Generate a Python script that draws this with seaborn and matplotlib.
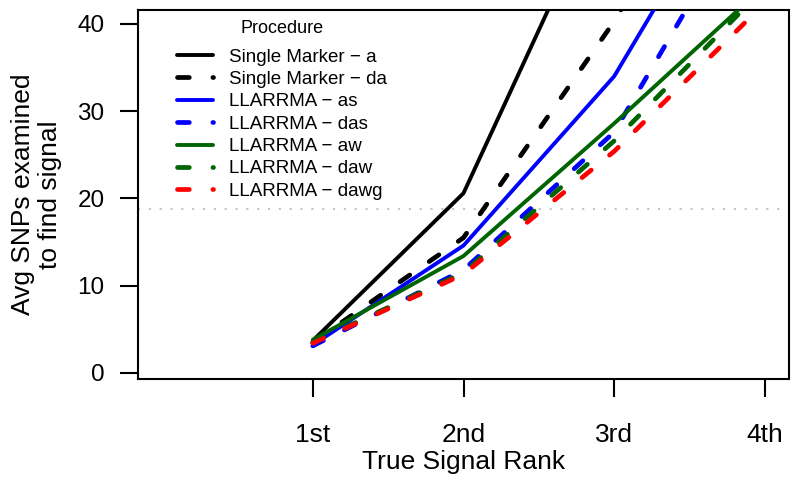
#!/usr/bin/env python3

import matplotlib
matplotlib.use("Agg")
from matplotlib import pyplot as plt
import numpy as np
import pandas as pd
import seaborn as sns

# Data
ranks = [1, 2, 3, 4]
rank_labels = ["1st", "2nd", "3rd", "4th"]
procedures = [
        "Single Marker \u2212 a", "Single Marker \u2212 da",
        "LLARRMA \u2212 as", "LLARRMA \u2212 das",
        "LLARRMA \u2212 aw", "LLARRMA \u2212 daw",
        "LLARRMA \u2212 dawg",
        ]
single_a = [3.7, 20.6, 58.0, 95.0]
single_da = [3.5, 15.5, 40.3, 70.0]
llarrma_as = [3.2, 14.6, 34.0, 63.0]
llarrma_das = [3.1, 11.8, 27.6, 57.0]
llarrma_aw = [3.8, 13.4, 28.6, 44.4]
llarrma_daw = [3.5, 11.5, 26.6, 44.2]
llarrma_dawg = [3.4, 11.3, 25.4, 42.4]
threshold = 18.8

colors = ["black", "black", "#0000ff", "#0000ff", "#006400", "#006400", "#ff0000"]
solid = [True, False, True, False, True, False, False]


def main():
    series = [single_a, single_da, llarrma_as, llarrma_das,
              llarrma_aw, llarrma_daw, llarrma_dawg]
    frames = []
    for name, vals in zip(procedures, series):
        frames.append(pd.DataFrame({"rank": ranks, "value": vals,
                                    "Procedure": name}))
    df = pd.concat(frames, ignore_index=True)

    sns.set_style("ticks")
    plt.rcParams["font.family"] = ["Liberation Sans", "DejaVu Sans"]
    plt.rcParams["text.color"] = "black"
    plt.rcParams["axes.labelcolor"] = "black"
    plt.rcParams["xtick.color"] = "black"
    plt.rcParams["ytick.color"] = "black"

    fig = plt.figure(figsize=(8, 4.9), dpi=100)
    ax = fig.add_axes([0.1725, 0.2265, 0.81375, 0.7531])

    palette = dict(zip(procedures, colors))
    dashes = {p: ("" if s else (2.5, 5.0)) for p, s in zip(procedures, solid)}
    sizes = {p: (2.8 if s else 3.4) for p, s in zip(procedures, solid)}

    ax.axhline(threshold, color="#c4c4c4", lw=1.5, linestyle=(0, (1, 4.2)),
               zorder=1)

    sns.lineplot(df, x="rank", y="value", hue="Procedure",
                 style="Procedure", size="Procedure", palette=palette,
                 dashes=dashes, sizes=sizes, hue_order=procedures,
                 style_order=procedures, size_order=procedures,
                 ax=ax, zorder=3)
    for line in ax.lines[1:]:
        line.set_dash_capstyle("round")

    ax.set_xlim(-0.16, 4.16)
    ax.set_ylim(-0.7, 41.6)
    ax.set_xticks(ranks)
    ax.set_xticklabels(rank_labels, fontsize=19)
    ax.set_yticks([0, 10, 20, 30, 40])
    ax.tick_params(axis="y", labelsize=17.5, pad=11)
    ax.tick_params(axis="x", pad=19)
    ax.tick_params(length=13, width=1.5, color="black")
    for sp in ax.spines.values():
        sp.set_visible(True)
        sp.set_linewidth(1.5)
        sp.set_color("black")

    ax.set_xlabel("True Signal Rank", fontsize=19, labelpad=2)
    ax.set_ylabel("Avg SNPs examined\nto find signal", fontsize=19,
                  labelpad=11, linespacing=1.15)

    leg = ax.legend(title="Procedure", loc="upper left",
                    bbox_to_anchor=(0.06, 0.972), frameon=False,
                    fontsize=13.5, title_fontsize=13, handlelength=1.92,
                    handletextpad=0.85, labelspacing=0.28, borderpad=0,
                    borderaxespad=0)
    leg._legend_box.sep = 8
    for line in leg.get_lines():
        line.set_dash_capstyle("round")

    fig.savefig("out.png", dpi=100)


if __name__ == "__main__":
    main()
